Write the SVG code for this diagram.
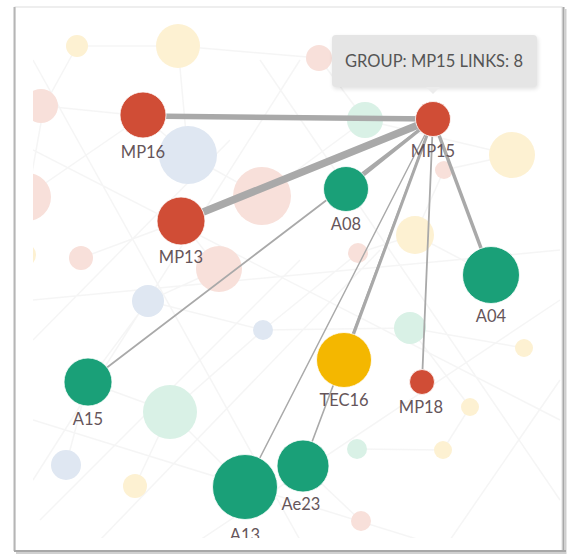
<svg xmlns="http://www.w3.org/2000/svg" width="568" height="554" viewBox="0 0 568 554">
<style>
.lbl{font-family:Lato,"Open Sans","Noto Sans",sans-serif;font-size:16.5px;fill:#65555a;text-anchor:middle}
.bgc{stroke:none}
.py{fill:#fdf1d2}.pp{fill:#f8e0da}.pb{fill:#dfe7f2}.pm{fill:#d9f1e6}
.bgl{stroke:#ededed;stroke-width:1.5;fill:none;opacity:0.55}
.e{stroke:#a9a9a9;stroke-linecap:round;fill:none}
.red{fill:#d04d36;stroke:#fff;stroke-width:0.8}
.grn{fill:#1aa078;stroke:#fff;stroke-width:0.8}
.yel{fill:#f4b700;stroke:#fff;stroke-width:0.8}
.tip{font-family:Lato,"Open Sans","Noto Sans",sans-serif;font-size:16.5px;fill:#555;text-anchor:middle}
</style>
<defs>
<clipPath id="plot"><rect x="33" y="8" width="528" height="530"/></clipPath>
<filter id="sh" x="-10%" y="-20%" width="120%" height="150%"><feGaussianBlur stdDeviation="2"/></filter>
</defs>
<rect width="568" height="554" fill="#fff"/>
<!-- frame -->
<g id="frame">
<rect x="15" y="7" width="547" height="544" fill="#fff" stroke="#dedede" stroke-width="1"/>
<line x1="14.5" y1="7" x2="14.5" y2="551" stroke="#b5b5b5" stroke-width="2"/>
<line x1="563.5" y1="7" x2="563.5" y2="554" stroke="#a8a8a8" stroke-width="2"/>
<line x1="565.5" y1="9" x2="565.5" y2="554" stroke="#cfcfcf" stroke-width="2"/>
<line x1="14" y1="551" x2="566" y2="551" stroke="#a8a8a8" stroke-width="2"/>
<line x1="16" y1="553" x2="566" y2="553" stroke="#d0d0d0" stroke-width="2"/>
</g>
<g clip-path="url(#plot)">
<!-- faint background network -->
<g id="bg-lines">
<path class="bgl" d="M77 46L178 46L319 58L365 120L512 155M77 46L44 106L28 195L25 255M178 46L188 155L262 196L365 120M44 106L143 116L188 155M143 116L28 195M81 258L181 221L219 269L148 301L88 382L66 465M148 301L263 330L410 328L524 348M263 330L170 412L135 486M170 412L88 382M170 412L245 487M357 449L443 450L470 407L410 328M358 253L415 235L444 170L512 155M415 235L491 275M358 253L263 330M361 521L303 466M33 300L560 250M33 150L560 420M40 520L300 260M100 540L380 250M200 540L560 300M33 420L420 540M260 60L560 500M33 60L300 540M450 540L560 380M33 340L230 140M300 60L33 480"/>
</g>
<!-- faint background nodes -->
<g id="bg-nodes">
<circle class="bgc py" cx="77" cy="46" r="11"/>
<circle class="bgc py" cx="178" cy="46" r="22"/>
<circle class="bgc pp" cx="41" cy="106" r="17"/>
<circle class="bgc pp" cx="319" cy="58" r="13"/>
<circle class="bgc pm" cx="365" cy="120" r="18"/>
<circle class="bgc pb" cx="188" cy="155" r="29"/>
<circle class="bgc pp" cx="262" cy="196" r="29"/>
<circle class="bgc pp" cx="27" cy="197" r="24"/>
<circle class="bgc py" cx="512" cy="155" r="23"/>
<circle class="bgc pp" cx="444" cy="170" r="9"/>
<circle class="bgc py" cx="415" cy="235" r="19"/>
<circle class="bgc pp" cx="358" cy="253" r="10"/>
<circle class="bgc pp" cx="81" cy="258" r="12"/>
<circle class="bgc pp" cx="219" cy="269" r="23"/>
<circle class="bgc py" cx="24" cy="255" r="12"/>
<circle class="bgc pb" cx="148" cy="301" r="16"/>
<circle class="bgc pb" cx="263" cy="330" r="10"/>
<circle class="bgc pm" cx="410" cy="328" r="16"/>
<circle class="bgc py" cx="524" cy="348" r="9"/>
<circle class="bgc pm" cx="170" cy="412" r="27"/>
<circle class="bgc py" cx="470" cy="407" r="9"/>
<circle class="bgc pb" cx="66" cy="465" r="15"/>
<circle class="bgc pm" cx="357" cy="449" r="10"/>
<circle class="bgc py" cx="443" cy="450" r="9"/>
<circle class="bgc py" cx="135" cy="486" r="12"/>
<circle class="bgc pp" cx="361" cy="521" r="10"/>
</g>
<!-- connectors -->
<g id="connectors">
<line class="e" x1="433" y1="119" x2="143" y2="116" stroke-width="5.5"/>
<line class="e" x1="433" y1="119" x2="181" y2="221" stroke-width="7.5"/>
<line class="e" x1="433" y1="119" x2="346" y2="189" stroke-width="3.5"/>
<line class="e" x1="433" y1="119" x2="88" y2="382" stroke-width="1.8"/>
<line class="e" x1="433" y1="119" x2="491" y2="275" stroke-width="3.5"/>
<line class="e" x1="433" y1="119" x2="344" y2="360" stroke-width="3"/>
<line class="e" x1="433" y1="119" x2="303" y2="466" stroke-width="1.6"/>
<line class="e" x1="433" y1="119" x2="422" y2="382" stroke-width="1.8"/>
<line class="e" x1="433" y1="119" x2="245" y2="487" stroke-width="1.4"/>
</g>
<!-- nodes -->
<g id="MP16"><circle class="red" cx="143" cy="115" r="23"/><text class="lbl" x="143" y="158">MP16</text></g>
<g id="MP13"><circle class="red" cx="181" cy="221" r="24"/><text class="lbl" x="181" y="263">MP13</text></g>
<g id="A08"><circle class="grn" cx="346" cy="189" r="22.5"/><text class="lbl" x="346" y="230">A08</text></g>
<g id="A04"><circle class="grn" cx="491" cy="275" r="28.5"/><text class="lbl" x="491" y="322">A04</text></g>
<g id="TEC16"><circle class="yel" cx="344" cy="360" r="27.5"/><text class="lbl" x="344" y="406">TEC16</text></g>
<g id="MP18"><circle class="red" cx="422" cy="382" r="12.5"/><text class="lbl" x="421" y="413">MP18</text></g>
<g id="A15"><circle class="grn" cx="88" cy="382" r="24"/><text class="lbl" x="88" y="425">A15</text></g>
<g id="Ae23"><circle class="grn" cx="303" cy="466" r="26"/><text class="lbl" x="301" y="510">Ae23</text></g>
<g id="A13"><circle class="grn" cx="245" cy="487" r="32.5"/><text class="lbl" x="245" y="541">A13</text></g>
<g id="MP15"><circle class="red" cx="433" cy="119" r="17.5"/><text class="lbl" x="433" y="157">MP15</text></g>
<!-- tooltip -->
<g id="tooltip">
<rect x="333" y="37" width="205" height="52" rx="4" fill="#000" opacity="0.12" filter="url(#sh)"/>
<rect x="332" y="35" width="205" height="52" rx="4" fill="#e5e5e5"/>
<path d="M426 87L433 94L440 87Z" fill="#ececec"/>
<text class="tip" x="434" y="67">GROUP: MP15 LINKS: 8</text>
</g>
</g>
</svg>
